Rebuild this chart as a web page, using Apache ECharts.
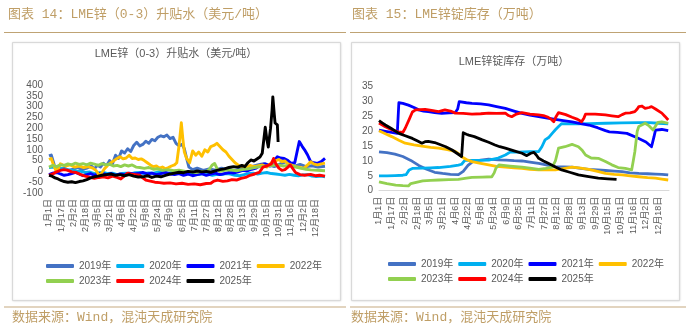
<!DOCTYPE html>
<html><head><meta charset="utf-8">
<script src="https://cdn.jsdelivr.net/npm/echarts/dist/echarts.min.js"></script>
<style>html,body{margin:0;padding:0;background:#fff}#c{width:692px;height:327px}</style>
</head><body><div id="c"></div>
<script>
// ---- tick labels (leap-year calendar, every 16 days) ----
const tickLabels = ['1月1日','1月17日','2月2日','2月18日','3月5日','3月21日','4月6日','4月22日','5月8日','5月24日','6月9日','6月25日','7月11日','7月27日','8月12日','8月28日','9月13日','9月29日','10月15日','10月31日','11月16日','12月2日','12月18日'];
const years = ['2019年','2020年','2021年','2022年','2023年','2024年','2025年'];
const yearColors = ['#4472C4','#00B0F0','#0000FF','#FFC000','#92D050','#FF0000','#000000'];

// ---- LME zinc (0-3) spread, USD/t : [day of year, value] ----
const spread2019 = [[0,72],[3,76],[5,70],[7,30],[9,12],[14,8],[20,15],[26,5],[32,10],[38,18],[44,8],[50,15],[56,25],[60,12],[64,28],[68,20],[72,38],[76,25],[80,50],[84,35],[88,75],[92,60],[96,95],[100,85],[104,105],[108,92],[112,120],[116,135],[120,118],[124,125],[128,140],[132,130],[136,148],[140,142],[144,158],[148,165],[152,160],[156,168],[160,152],[164,158],[168,130],[172,118],[176,125],[179,105],[182,60],[185,20],[190,8],[196,15],[204,5],[212,12],[220,6],[228,15],[236,10],[244,4],[252,12],[260,18],[268,22],[276,30],[284,36],[292,28],[298,22],[306,35],[314,45],[320,30],[326,25],[332,32],[340,22],[348,26],[356,20],[365,24]];
const spread2020 = [[0,18],[6,20],[12,15],[18,12],[24,8],[30,5],[36,2],[42,0],[48,-5],[54,-3],[60,-10],[66,-6],[72,-5],[78,-10],[84,-8],[90,-15],[96,-10],[102,-8],[108,-12],[114,-6],[120,-5],[126,-10],[132,-7],[138,-8],[144,-3],[150,-3],[156,-8],[162,-6],[168,-5],[174,-10],[180,-8],[186,-12],[192,-14],[198,-15],[204,-10],[210,-12],[216,-18],[222,-14],[228,-15],[234,-10],[240,-12],[246,-18],[252,-20],[258,-15],[264,-10],[270,-8],[276,-12],[282,-8],[288,-5],[294,-10],[300,-12],[306,-15],[312,-18],[318,-14],[324,-18],[330,-20],[336,-16],[342,-15],[348,-22],[354,-24],[360,-22],[365,-25]];
const spread2021 = [[0,-15],[5,-8],[10,-5],[15,-12],[20,-18],[25,-15],[30,-10],[35,-5],[40,-12],[45,-20],[50,-15],[55,-10],[60,-18],[65,-12],[70,-8],[76,-15],[82,-10],[88,-18],[94,-12],[100,-15],[106,-8],[112,-12],[118,-10],[124,-5],[130,-12],[136,-8],[142,-15],[148,-10],[154,-5],[160,-12],[166,-15],[172,-10],[178,-18],[184,-12],[190,-20],[196,-15],[202,-10],[208,-18],[214,-12],[220,-8],[226,-15],[232,-10],[238,-5],[244,-8],[250,-2],[256,5],[262,2],[268,10],[274,15],[280,30],[286,35],[292,25],[298,50],[302,68],[306,62],[311,60],[316,50],[320,37],[325,40],[328,90],[331,138],[335,115],[338,100],[342,76],[346,45],[350,40],[355,37],[360,45],[365,60]];
const spread2022 = [[0,55],[3,60],[6,30],[9,5],[12,10],[15,35],[18,30],[22,25],[28,30],[34,20],[40,25],[46,18],[52,22],[58,15],[62,5],[65,-10],[67,-20],[70,-5],[74,15],[78,30],[82,40],[86,50],[90,60],[94,68],[98,58],[102,62],[106,75],[110,60],[114,62],[118,55],[122,58],[126,50],[130,40],[134,30],[138,22],[142,25],[146,15],[150,20],[154,12],[158,18],[162,25],[166,30],[169,40],[172,120],[175,225],[177,150],[179,90],[182,60],[186,40],[190,95],[194,75],[198,90],[202,70],[206,100],[210,90],[214,115],[218,120],[222,130],[226,115],[230,100],[234,90],[238,70],[242,55],[246,40],[250,30],[254,22],[258,25],[262,18],[266,28],[270,22],[276,25],[282,30],[288,20],[294,40],[300,50],[304,55],[308,45],[312,48],[316,35],[320,30],[326,22],[332,18],[337,14],[342,30],[346,45],[350,35],[355,30],[360,35],[365,38]];
const spread2023 = [[0,20],[5,28],[10,22],[15,30],[20,28],[25,35],[30,30],[35,38],[40,32],[45,36],[50,30],[55,38],[60,34],[65,28],[70,36],[75,30],[80,33],[85,25],[90,28],[95,22],[100,30],[105,25],[110,30],[115,20],[120,18],[126,14],[132,18],[138,10],[144,12],[150,5],[158,8],[165,3],[172,6],[180,0],[188,-2],[195,-5],[202,0],[208,-2],[212,10],[216,30],[219,37],[222,15],[226,0],[232,5],[240,7],[248,3],[256,8],[264,12],[272,18],[280,22],[288,25],[296,28],[302,30],[310,25],[318,28],[324,22],[332,15],[340,10],[346,7],[355,5],[365,3]];
const spread2024 = [[0,-18],[5,-12],[10,-2],[15,5],[20,8],[25,5],[30,-2],[36,-5],[42,-15],[48,-22],[54,-28],[60,-32],[66,-28],[72,-25],[78,-30],[84,-22],[90,-28],[95,-35],[100,-20],[104,-8],[108,-12],[114,-15],[120,-18],[124,-30],[128,-40],[134,-45],[140,-50],[146,-52],[152,-55],[160,-53],[168,-58],[176,-55],[184,-60],[192,-58],[200,-62],[208,-56],[214,-55],[218,-45],[223,-40],[230,-46],[236,-44],[242,-38],[248,-40],[254,-32],[260,-28],[266,-18],[272,-12],[278,-5],[283,20],[288,25],[294,35],[297,60],[300,35],[304,15],[308,5],[312,8],[316,20],[319,30],[322,15],[326,-5],[332,-15],[338,-18],[346,-14],[352,-20],[358,-18],[365,-22]];
const spread2025 = [[0,-18],[4,-22],[8,-30],[12,-35],[16,-42],[20,-47],[25,-50],[30,-48],[35,-52],[40,-47],[45,-44],[50,-38],[55,-30],[60,-25],[65,-22],[70,-18],[76,-15],[82,-12],[88,-18],[94,-15],[100,-20],[106,-15],[112,-22],[118,-26],[124,-25],[130,-20],[136,-28],[142,-22],[148,-25],[154,-18],[160,-12],[166,-8],[172,-4],[178,-6],[184,0],[190,-3],[196,2],[202,-2],[208,0],[214,-4],[220,2],[226,8],[232,12],[238,18],[244,22],[250,20],[255,28],[259,22],[263,40],[267,53],[271,48],[276,60],[279,67],[282,84],[284,90],[286,205],[288,150],[290,113],[293,200],[295,284],[296,345],[298,260],[299,224],[301,230],[302,215],[303,136]];

// ---- LME zinc stocks, 10kt : [day of year, value] ----
const stock2019 = [[0,13.1],[10,12.8],[20,12.3],[30,11.5],[40,10.2],[50,8.5],[60,7.2],[70,6.2],[80,5.8],[90,5.5],[100,5.4],[106,6.5],[112,8.5],[118,9.8],[128,10.3],[138,10.6],[150,10.4],[160,10.3],[170,10.1],[180,10.0],[190,9.6],[201,9.2],[212,8.6],[222,8.1],[232,8.0],[243,7.9],[254,7.5],[264,7.2],[275,7.0],[285,6.8],[296,6.6],[306,6.4],[316,6.0],[327,5.8],[338,5.7],[348,5.6],[356,5.5],[364,5.3]];
const stock2020 = [[0,5.0],[10,5.0],[20,5.1],[30,5.2],[34,5.4],[38,7.0],[42,7.5],[55,7.6],[65,7.7],[75,7.8],[90,8.2],[100,8.6],[104,8.9],[108,10.2],[120,10.2],[138,10.3],[150,11.0],[159,12.0],[165,13.0],[175,13.0],[190,13.1],[201,13.2],[205,14.8],[209,17.1],[214,18.0],[218,19.3],[222,20.5],[226,21.6],[230,22.6],[240,22.5],[251,22.5],[265,22.6],[285,22.7],[305,22.8],[327,22.9],[340,22.9],[352,22.7],[364,22.5]];
const stock2021 = [[0,20.4],[8,20.0],[16,19.6],[23,19.3],[25,29.6],[30,29.4],[37,28.8],[44,28.0],[50,27.2],[56,26.8],[62,26.6],[70,26.3],[79,26.0],[88,26.2],[96,26.3],[99,27.5],[101,30.0],[110,29.6],[117,29.4],[128,29.2],[138,28.9],[148,28.3],[159,27.7],[170,26.8],[180,26.0],[190,25.4],[201,24.9],[212,24.4],[222,24.0],[232,23.6],[243,23.2],[254,22.6],[264,22.1],[275,21.2],[285,20.2],[290,19.8],[300,19.6],[312,19.3],[325,17.8],[336,16.4],[343,14.8],[346,18.0],[348,20.4],[356,20.6],[364,20.2]];
const stock2022 = [[0,20.2],[8,19.2],[16,18.2],[25,17.0],[33,16.0],[44,15.4],[54,15.0],[65,14.6],[75,14.3],[86,13.8],[96,13.2],[100,12.5],[104,11.4],[110,10.5],[117,9.8],[128,9.2],[138,8.7],[148,8.2],[159,7.9],[170,7.7],[180,7.5],[190,7.2],[201,7.0],[212,7.0],[222,7.0],[232,7.4],[243,7.9],[254,7.6],[264,7.2],[275,6.5],[285,5.8],[296,5.5],[306,5.3],[316,5.0],[327,4.7],[338,4.4],[348,4.2],[356,3.9],[364,3.6]];
const stock2023 = [[0,3.0],[10,2.4],[21,1.9],[30,1.7],[37,1.6],[40,2.4],[42,3.0],[55,3.3],[65,3.5],[75,3.6],[88,3.7],[100,3.8],[110,4.2],[117,4.5],[130,4.6],[142,4.7],[145,6.0],[147,7.5],[151,8.7],[165,8.3],[180,7.9],[190,7.6],[201,7.2],[210,7.5],[218,7.9],[222,10.0],[226,14.3],[234,14.8],[243,15.6],[246,15.3],[251,14.8],[256,13.5],[260,12.0],[267,11.0],[276,10.9],[285,9.8],[293,8.7],[301,7.8],[310,7.5],[318,7.0],[320,10.0],[322,13.1],[325,20.0],[327,21.6],[335,22.7],[340,21.8],[345,20.4],[351,23.0],[356,23.2],[364,22.7]];
const stock2024 = [[0,22.8],[8,21.5],[16,20.5],[24,19.8],[30,19.6],[33,21.0],[38,24.0],[42,26.5],[46,27.2],[52,27.3],[58,27.4],[66,27.0],[75,26.6],[83,27.2],[90,26.8],[96,26.1],[106,26.0],[117,25.8],[128,25.9],[138,26.1],[148,26.0],[159,26.1],[163,25.3],[167,24.9],[173,25.8],[180,26.3],[190,25.8],[201,25.5],[207,25.3],[213,24.7],[217,24.0],[220,23.2],[223,25.0],[226,26.3],[235,25.6],[243,24.7],[250,24.0],[255,23.2],[258,24.5],[260,25.8],[272,25.8],[285,25.5],[293,25.2],[301,24.9],[306,25.6],[310,26.1],[316,26.2],[322,26.6],[325,27.5],[327,28.3],[331,28.5],[335,27.7],[340,28.0],[343,28.3],[348,27.5],[356,26.1],[360,25.0],[364,23.8]];
const stock2025 = [[0,23.6],[4,22.8],[8,22.1],[15,21.0],[25,19.3],[33,18.5],[42,17.6],[48,16.8],[54,16.0],[58,16.5],[62,16.6],[70,16.2],[75,15.7],[84,14.8],[92,13.7],[98,12.6],[104,11.5],[106,19.5],[110,19.0],[113,18.7],[120,18.2],[130,17.1],[138,16.3],[146,15.4],[152,14.8],[159,14.3],[170,13.4],[180,12.6],[186,11.8],[188,11.5],[191,12.6],[195,12.9],[198,12.0],[201,10.9],[207,10.0],[213,9.2],[222,8.0],[230,7.0],[240,6.2],[251,5.3],[262,4.8],[276,4.2],[288,4.0],[299,3.8]];

const spreadSeries = [spread2019,spread2020,spread2021,spread2022,spread2023,spread2024,spread2025];
const stockSeries = [stock2019,stock2020,stock2021,stock2022,stock2023,stock2024,stock2025];

const GOLD = '#BF9E66';
const GRAY = '#595959';
const FONT = "'Liberation Sans','Noto Sans CJK SC',sans-serif";
const TFONT = "'Liberation Mono','Noto Sans CJK SC',monospace";

function xAxisCfg(gi, showLine) {
  return {
    type: 'value', gridIndex: gi, min: 0, max: 365, interval: 16,
    axisLine: {show: showLine, onZero: false, lineStyle: {color: '#D9D9D9', width: 1}},
    axisTick: {show: false}, splitLine: {show: false},
    axisLabel: {
      rotate: 90, fontSize: 9, color: GRAY, fontFamily: FONT, margin: 6,
      showMaxLabel: false,
      formatter: v => (v % 16 === 0 && tickLabels[v / 16]) ? tickLabels[v / 16] : ''
    }
  };
}
function yAxisCfg(gi, min, max, itv) {
  return {
    type: 'value', gridIndex: gi, min: min, max: max, interval: itv,
    axisLine: {show: false}, axisTick: {show: false}, splitLine: {show: false},
    axisLabel: {fontSize: 10, color: GRAY, fontFamily: FONT, margin: 6}
  };
}
const series = [];
years.forEach((y, i) => {
  series.push({name: y, type: 'line', xAxisIndex: 0, yAxisIndex: 0, data: spreadSeries[i],
    showSymbol: false, symbol: 'none', lineStyle: {width: 2.9, color: yearColors[i], join: 'round'},
    itemStyle: {color: yearColors[i]}, emphasis: {disabled: true}, z: 2 + i});
});
years.forEach((y, i) => {
  series.push({name: y, type: 'line', xAxisIndex: 1, yAxisIndex: 1, data: stockSeries[i],
    showSymbol: false, symbol: 'none', lineStyle: {width: 2.8, color: yearColors[i], join: 'round'},
    itemStyle: {color: yearColors[i]}, emphasis: {disabled: true}, z: 2 + i});
});
function legendCfg(left, top) {
  return {data: years, left: left, top: top, width: 290, orient: 'horizontal',
    itemWidth: 28, itemHeight: 4, itemGap: 5, icon: 'roundRect', padding: 0,
    textStyle: {fontSize: 10, color: GRAY, fontFamily: FONT}, selectedMode: false};
}
const chart = echarts.init(document.getElementById('c'), null, {renderer: 'canvas'});
chart.setOption({
  animation: false,
  backgroundColor: '#fff',
  title: [
    {text: 'LME锌（0-3）升贴水（美元/吨）', left: 176, top: 48, textAlign: 'center', padding: 0,
     textStyle: {fontSize: 11, fontWeight: 'normal', color: GRAY, fontFamily: FONT}},
    {text: 'LME锌锭库存（万吨）', left: 514, top: 56, textAlign: 'center', padding: 0,
     textStyle: {fontSize: 11, fontWeight: 'normal', color: GRAY, fontFamily: FONT}}
  ],
  grid: [
    {left: 49, top: 85, width: 276, height: 108, containLabel: false, outerBoundsMode: 'none'},
    {left: 379, top: 86.7, width: 290, height: 104, containLabel: false, outerBoundsMode: 'none'}
  ],
  xAxis: [xAxisCfg(0, false), xAxisCfg(1, true)],
  yAxis: [yAxisCfg(0, -100, 400, 50), yAxisCfg(1, 0, 35, 5)],
  legend: [legendCfg(46, 261), legendCfg(388, 259)],
  tooltip: {show: false},
  series: series,
  graphic: [
    {type: 'rect', z: -10, shape: {x: 12.5, y: 42.5, width: 328, height: 258}, style: {fill: '#fff', stroke: '#D9D9D9', lineWidth: 1, shadowBlur: 2, shadowColor: 'rgba(0,0,0,0.12)'}},
    {type: 'rect', z: -10, shape: {x: 351.5, y: 42.5, width: 328, height: 258}, style: {fill: '#fff', stroke: '#D9D9D9', lineWidth: 1, shadowBlur: 2, shadowColor: 'rgba(0,0,0,0.12)'}},
    {type: 'text', x: 8, y: 15, style: {text: '图表 14：LME锌（0-3）升贴水（美元/吨）', fontSize: 13, fontFamily: TFONT, fill: GOLD, textVerticalAlign: 'middle'}},
    {type: 'text', x: 352, y: 15, style: {text: '图表 15：LME锌锭库存（万吨）', fontSize: 13, fontFamily: TFONT, fill: GOLD, textVerticalAlign: 'middle'}},
    {type: 'line', shape: {x1: 4, y1: 32.5, x2: 346, y2: 32.5}, style: {stroke: '#BFA374', lineWidth: 1.2}},
    {type: 'line', shape: {x1: 350, y1: 32.5, x2: 686, y2: 32.5}, style: {stroke: '#BFA374', lineWidth: 1.2}},
    {type: 'line', shape: {x1: 4, y1: 307, x2: 346, y2: 307}, style: {stroke: '#D9C6AA', lineWidth: 1.5}},
    {type: 'line', shape: {x1: 350, y1: 307, x2: 686, y2: 307}, style: {stroke: '#D9C6AA', lineWidth: 1.5}},
    {type: 'text', x: 12, y: 318, style: {text: '数据来源：Wind，混沌天成研究院', fontSize: 13, fontFamily: TFONT, fill: GOLD, textVerticalAlign: 'middle'}},
    {type: 'text', x: 351, y: 318, style: {text: '数据来源：Wind，混沌天成研究院', fontSize: 13, fontFamily: TFONT, fill: GOLD, textVerticalAlign: 'middle'}}
  ]
});
</script>
</body></html>
